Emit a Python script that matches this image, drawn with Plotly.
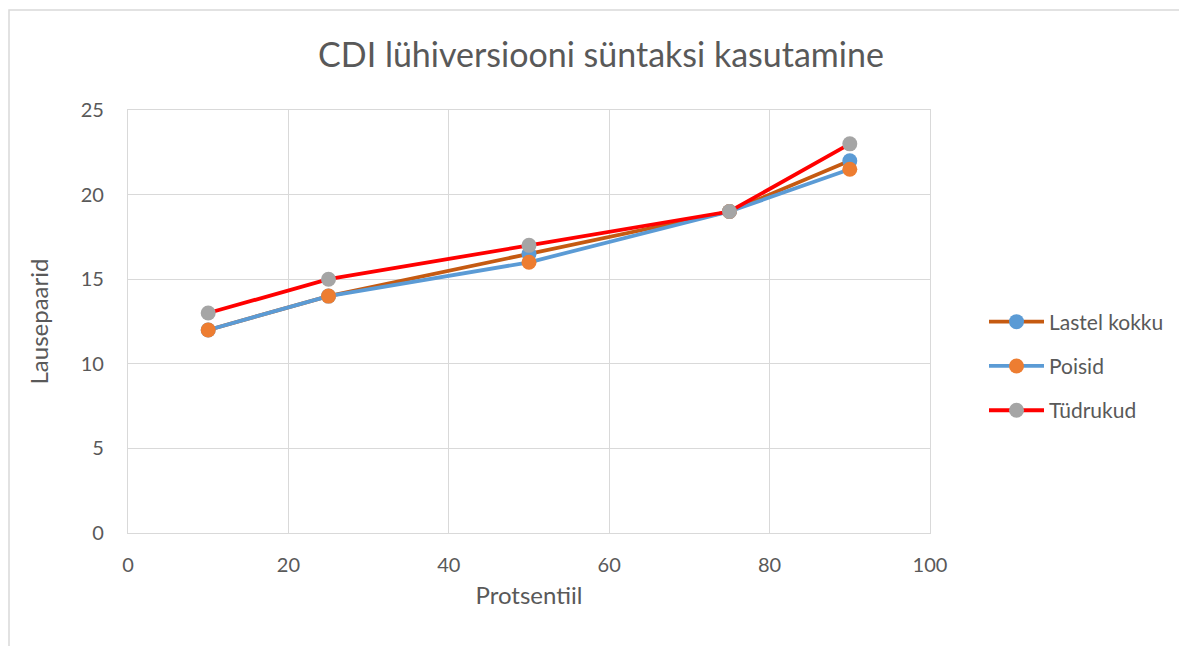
import plotly.graph_objects as go

percentiles = [10, 25, 50, 75, 90]
lastel_kokku = [12, 14, 16.5, 19, 22]
poisid = [12, 14, 16, 19, 21.5]
tudrukud = [13, 15, 17, 19, 23]

series = [
    ("Lastel kokku", lastel_kokku, "#C55A11", "#5B9BD5"),
    ("Poisid", poisid, "#5B9BD5", "#ED7D31"),
    ("Tüdrukud", tudrukud, "#FF0000", "#A5A5A5"),
]

FONT = "Lato, 'Open Sans', sans-serif"
GREY = "#595959"

fig = go.Figure()
for i, (name, vals, lc, mc) in enumerate(series):
    fig.add_trace(go.Scatter(
        x=percentiles, y=vals, name=name, mode="lines+markers",
        line=dict(color=lc, width=3.8),
        marker=dict(color=mc, size=15, line=dict(width=0)),
        legendgroup=f"g{i}",
    ))

# page has an 8px body margin; work in page pixel coords
OX, OY = 8, 8
W, H = 1187 - OX, 646 - OY
PL, PR, PT, PB = 128, 930, 110, 533  # plot area in page coords
L, T = PL - OX, PT - OY
R, B = W - (PR - OX), H - (PB - OY)
pw, ph = PR - PL, PB - PT

def px(xp):
    return (xp - PL) / pw

def py(yp):
    return (PB - yp) / ph

fig.update_layout(
    width=W, height=H,
    margin=dict(l=L, r=R, t=T, b=B, pad=0),
    paper_bgcolor="white", plot_bgcolor="white",
    font=dict(family=FONT, color=GREY, size=20),
    title=dict(text="CDI lühiversiooni süntaksi kasutamine",
               x=(601 - OX) / W, xanchor="center", y=1 - (55 - OY) / H, yanchor="middle",
               font=dict(size=34, color=GREY, family=FONT)),
    xaxis=dict(range=[0, 100], dtick=20, tick0=0, showgrid=True,
               gridcolor="#D9D9D9", gridwidth=1.3, zeroline=False,
               showline=True, linecolor="#D9D9D9", linewidth=1.3, mirror=True,
               ticks="", tickfont=dict(size=20, color=GREY), ticklabelstandoff=14,
               title=dict(text="Protsentiil", font=dict(size=24, color=GREY), standoff=12)),
    yaxis=dict(range=[0, 25], dtick=5, tick0=0, showgrid=True,
               gridcolor="#D9D9D9", gridwidth=1.3, zeroline=False,
               showline=True, linecolor="#D9D9D9", linewidth=1.3, mirror=True,
               ticks="", tickfont=dict(size=20, color=GREY), ticklabelstandoff=19,
               title=dict(text="Lausepaarid", font=dict(size=24, color=GREY), standoff=25)),
    legend=dict(x=px(984), xanchor="left", y=py(366),
                yanchor="middle", font=dict(size=21, color=GREY, family=FONT),
                tracegroupgap=14, itemwidth=55, bgcolor="rgba(0,0,0,0)"),
    showlegend=True,
)

# outer chart-area border (partly outside the visible page, as in the reference)
fig.add_shape(type="rect", xref="paper", yref="paper",
              x0=px(9), x1=px(1200), y0=py(660), y1=py(10),
              line=dict(color="#D9D9D9", width=1.5), fillcolor="rgba(0,0,0,0)", layer="below")

fig.write_html("out.html")
